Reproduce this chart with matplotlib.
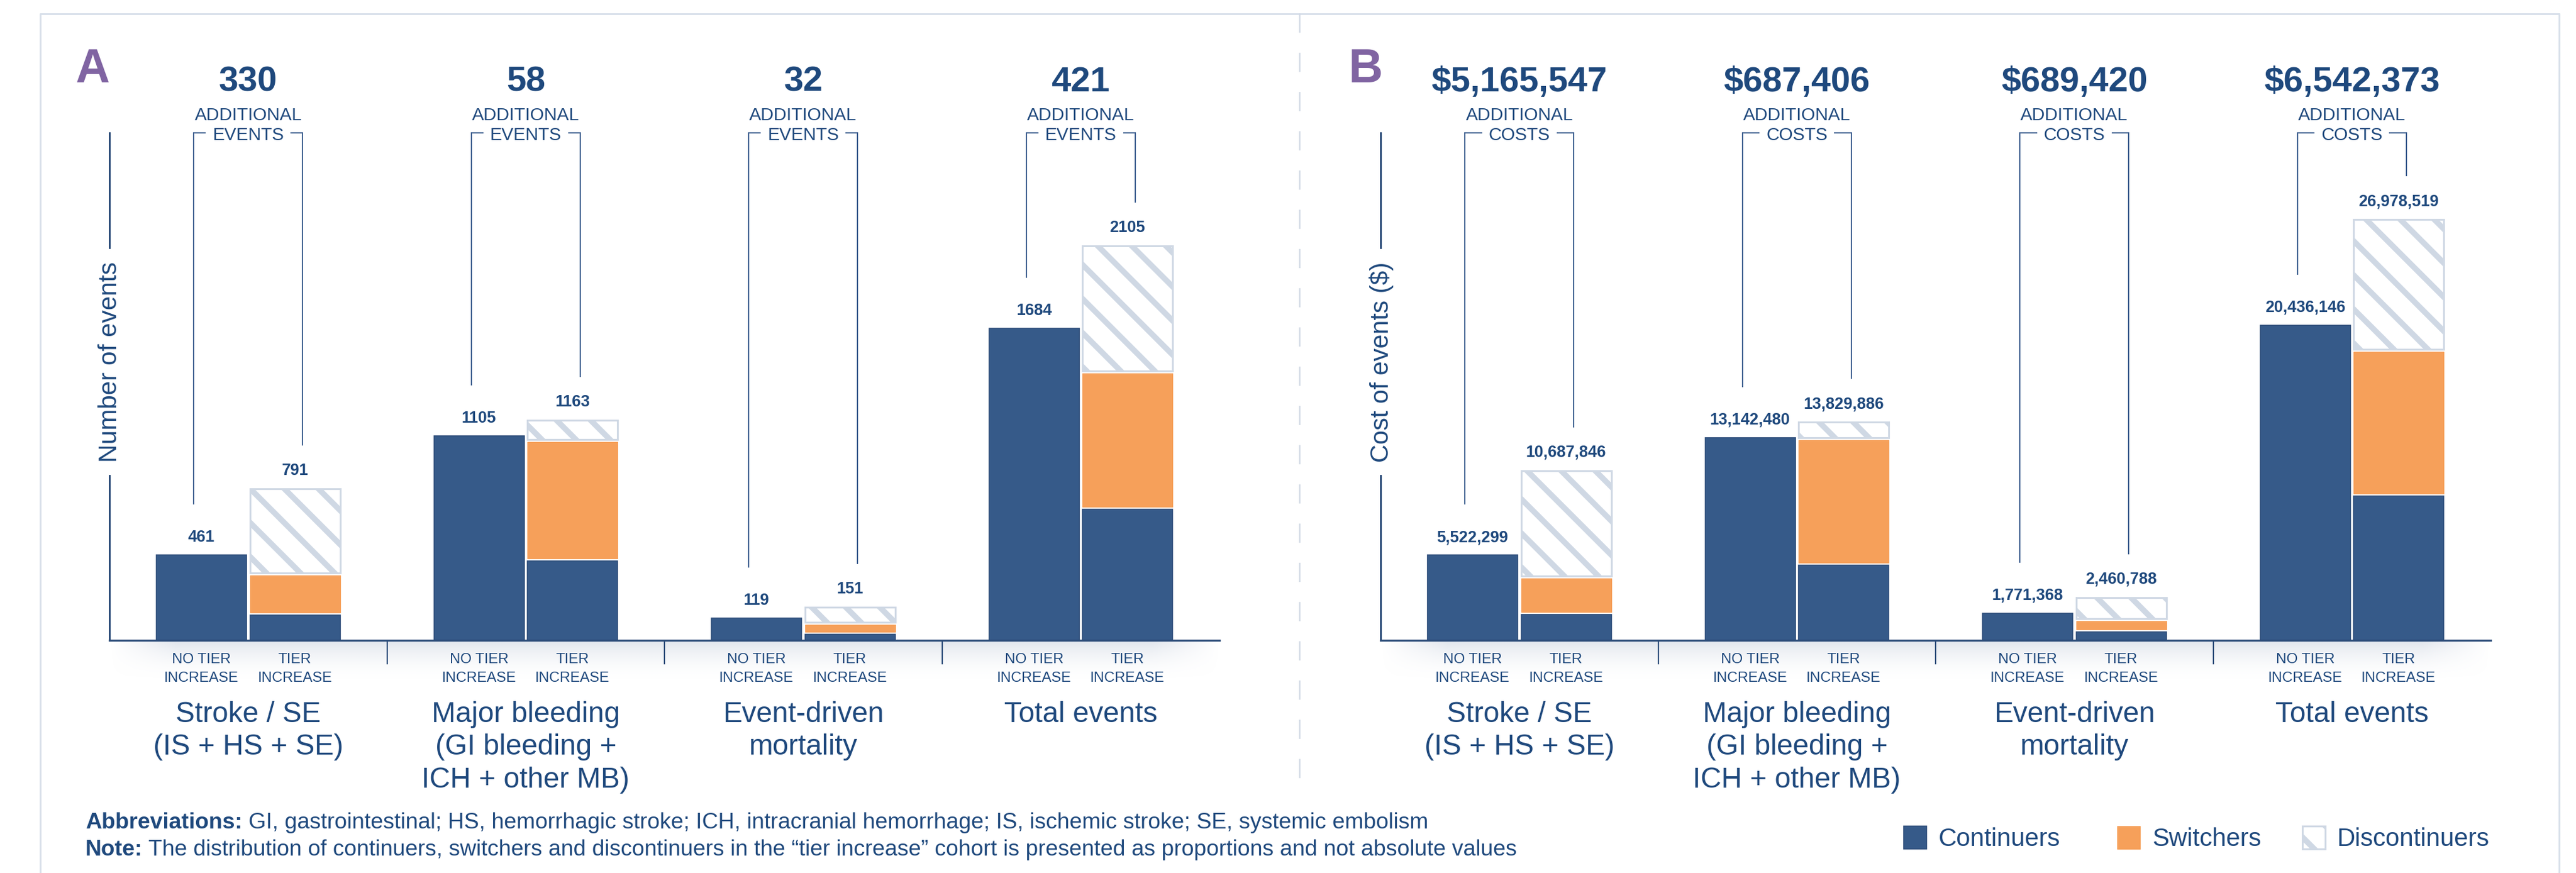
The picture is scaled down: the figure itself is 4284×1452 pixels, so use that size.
import numpy as np
import matplotlib
matplotlib.use("Agg")
import matplotlib.pyplot as plt
from matplotlib import transforms
from matplotlib.patches import Rectangle
from matplotlib.lines import Line2D

# Datos
categorias = ["Stroke / SE\n(IS + HS + SE)", "Major bleeding\n(GI bleeding +\nICH + other MB)",
              "Event-driven\nmortality", "Total events"]
cohortes = ["NO TIER\nINCREASE", "TIER\nINCREASE"]
series = ["Continuers", "Switchers", "Discontinuers"]

# Panel A: numero de eventos
eventos_sin_aumento = [461, 1105, 119, 1684]
eventos_con_aumento = [791, 1163, 151, 2105]
eventos_adicionales = [330, 58, 32, 421]
eventos_continuers = [137, 428, 33, 708]
eventos_switchers = [201, 629, 39, 721]
eventos_discontinuers = [453, 106, 79, 676]

# Panel B: costo de eventos ($)
costos_sin_aumento = [5522299, 13142480, 1771368, 20436146]
costos_con_aumento = [10687846, 13829886, 2460788, 26978519]
costos_adicionales = [5165547, 687406, 689420, 6542373]
costos_continuers = [1657000, 4854000, 534000, 9360000]
costos_switchers = [2210000, 7980000, 571000, 9200000]
costos_discontinuers = [6820846, 995886, 1355788, 8418519]

# Medidas de la figura (pixeles)
W, H, DPI = 4284, 1452, 170
K = 200 / DPI  # los tamaños se pensaron a 200 dpi
BASE, TOPE, ANCHO_EJE = 1065, 221, 1846

AZUL = '#365a89'
BORDE = '#2c4c79'
NARANJA = '#f6a05a'
RAYAS = '#cfd8e4'
TEXTO = '#1f497d'
LINEA = '#3f6090'
MORADO = '#8064a2'
MARCO = '#d9e0ea'

plt.rcParams['font.family'] = ['Liberation Sans', 'DejaVu Sans']
plt.rcParams['hatch.linewidth'] = 4.0

fig = plt.figure(figsize=(W / DPI, H / DPI), dpi=DPI)


def fx(px):
    return px / W


def fy(py):
    return 1 - py / H


def pt(px):
    return px * 72 / DPI


def panel(x_eje, letra, x_letra, sin_aum, con_aum, adicionales, cont, swit, disc,
          etiqueta_y, palabra, formato, px_por_unidad):
    ax = fig.add_axes([fx(x_eje), fy(BASE), fx(ANCHO_EJE), (BASE - TOPE) / H])
    ymax = (BASE - TOPE) / px_por_unidad
    u = ymax / (BASE - TOPE)  # unidades de datos por pixel
    x = np.arange(len(categorias))
    w = 150 / 461.5
    d = 155.5 / 2 / 461.5
    x_sin, x_con = x - d, x + d

    # barras
    ax.bar(x_sin, sin_aum, w, color=AZUL, edgecolor=BORDE, linewidth=0.6 * K, zorder=3)
    cont, swit, disc = np.array(cont), np.array(swit), np.array(disc)
    ax.bar(x_con, cont, w, color=AZUL, edgecolor=BORDE, linewidth=0.6 * K, zorder=3)
    b2 = cont + 4 * u
    ax.bar(x_con, swit, w, bottom=b2, color=NARANJA, edgecolor=NARANJA, linewidth=0.4 * K, zorder=3)
    b3 = b2 + swit + 4 * u
    ax.bar(x_con, disc, w, bottom=b3, color='white', edgecolor=RAYAS, hatch='\\',
           linewidth=1.1 * K, zorder=3)
    tope_con = b3 + disc

    # etiquetas sobre barras
    for xi, v, yv in zip(x_sin, sin_aum, sin_aum):
        ax.annotate(formato(v), (xi, yv), xytext=(0, pt(22)), textcoords='offset points',
                    ha='center', va='baseline', fontsize=9.6 * K, weight='bold', color=TEXTO,
                    annotation_clip=False)
    for xi, v, yv in zip(x_con, con_aum, tope_con):
        ax.annotate(formato(v), (xi, yv), xytext=(0, pt(23)), textcoords='offset points',
                    ha='center', va='baseline', fontsize=9.6 * K, weight='bold', color=TEXTO,
                    annotation_clip=False)

    ax.set_xlim(-0.5, 3.5)
    ax.set_ylim(0, ymax)
    for s in ['left', 'top', 'right']:
        ax.spines[s].set_visible(False)
    ax.spines['bottom'].set_color(BORDE)
    ax.spines['bottom'].set_linewidth(1.2 * K)
    ax.spines['bottom'].set_zorder(4)
    ax.set_yticks([])
    ax.set_xticks(np.concatenate([x_sin, x_con]), [cohortes[0]] * 4 + [cohortes[1]] * 4)
    ax.tick_params(axis='x', length=0, pad=pt(21), labelsize=8.75 * K, labelcolor=TEXTO)
    for lbl in ax.get_xticklabels():
        lbl.set_linespacing(1.53)

    # eje y partido con su titulo
    ax.plot([0, 0], [0, (BASE - 791) / (BASE - TOPE)], transform=ax.transAxes,
            color=BORDE, lw=1.1 * K, clip_on=False)
    ax.plot([0, 0], [(BASE - 412) / (BASE - TOPE), 1], transform=ax.transAxes,
            color=BORDE, lw=1.1 * K, clip_on=False)
    fig.text(fx(x_eje + 1), fy(602), etiqueta_y, rotation=90, ha='center', va='center',
             fontsize=15.2 * K, color=TEXTO)
    fig.text(fx(x_letra), fy(137), letra, fontsize=28.4 * K, weight='bold', color=MORADO,
             ha='left', va='baseline')

    # separadores y sombra debajo de la base
    ax.vlines([0.5, 1.5, 2.5], -40 * u, 0, colors=BORDE, lw=0.8 * K, clip_on=False)
    alto = 70
    t = np.linspace(0, 1, alto)[:, None]
    s = np.linspace(0, 1, 400)[None, :]
    horiz = np.clip(np.minimum(s, 1 - s) / 0.06, 0, 1)
    alfa = 0.6 * (1 - t) ** 2 * horiz
    img = np.zeros((alto, 400, 4))
    img[..., 0], img[..., 1], img[..., 2] = 0.80, 0.83, 0.88
    img[..., 3] = alfa
    ax.imshow(img, extent=(0, 1, -alto / (BASE - TOPE), 0), transform=ax.transAxes,
              aspect='auto', clip_on=False, zorder=1, interpolation='bilinear')
    ax.set_xlim(-0.5, 3.5)
    ax.set_ylim(0, ymax)

    # titulos de grupo
    mezcla = transforms.blended_transform_factory(ax.transData, fig.transFigure)
    for xi, cat in zip(x, categorias):
        ax.text(xi, fy(1166), cat, transform=mezcla, ha='center', va='top',
                fontsize=17.2 * K, color=TEXTO, linespacing=1.27, multialignment='center')

    # encabezados con corchetes
    renderer = fig.canvas.get_renderer()
    inv = ax.transData.inverted()
    for i, xi in enumerate(x):
        ax.text(xi, fy(152), formato(adicionales[i], True), transform=mezcla, ha='center',
                va='baseline', fontsize=21 * K, weight='bold', color=TEXTO)
        ax.text(xi, fy(200), "ADDITIONAL", transform=mezcla, ha='center', va='baseline',
                fontsize=10.7 * K, color=TEXTO)
        tp = ax.text(xi, fy(233), palabra, transform=mezcla, ha='center', va='baseline',
                     fontsize=10.7 * K, color=TEXTO)
        bb = tp.get_window_extent(renderer)
        x_izq = inv.transform((bb.x0 - 12, 0))[0]
        x_der = inv.transform((bb.x1 + 12, 0))[0]
        xl, xr = xi - 0.196, xi + 0.196
        ax.plot([x_izq, xl, xl], [ymax, ymax, sin_aum[i] + 85 * u], color=LINEA, lw=0.75 * K,
                clip_on=False, solid_joinstyle='miter')
        ax.plot([x_der, xr, xr], [ymax, ymax, tope_con[i] + 73 * u], color=LINEA, lw=0.75 * K,
                clip_on=False, solid_joinstyle='miter')
    return ax


def fmt_eventos(v, grande=False):
    return str(v)


def fmt_costos(v, grande=False):
    return ("$" if grande else "") + f"{v:,}"


panel(182, "A", 125, eventos_sin_aumento, eventos_con_aumento, eventos_adicionales,
      eventos_continuers, eventos_switchers, eventos_discontinuers,
      "Number of events", "EVENTS", fmt_eventos, 0.308)
panel(2296, "B", 2243, costos_sin_aumento, costos_con_aumento, costos_adicionales,
      costos_continuers, costos_switchers, costos_discontinuers,
      "Cost of events ($)", "COSTS", fmt_costos, 2.565e-5)

# marco y divisor punteado
fig.add_artist(Line2D([fx(67), fx(67), fx(4256), fx(4256)], [fy(1460), fy(23), fy(23), fy(1460)],
                      color=MARCO, lw=1.1 * K))
fig.add_artist(Line2D([fx(2161), fx(2161)], [fy(22), fy(1306)], color='#d3dae5', lw=0.9 * K,
                      linestyle=(0, (12.8, 13.3))))

# notas al pie
renderer = fig.canvas.get_renderer()
notas = [("Abbreviations:", " GI, gastrointestinal; HS, hemorrhagic stroke; ICH, intracranial "
          "hemorrhage; IS, ischemic stroke; SE, systemic embolism", 1378),
         ("Note:", " The distribution of continuers, switchers and discontinuers in the "
          "\u201ctier increase\u201d cohort is presented as proportions and not absolute values", 1423)]
for negrita, resto, yb in notas:
    tb = fig.text(fx(142), fy(yb), negrita, fontsize=13.4 * K, weight='bold', color=TEXTO,
                  va='baseline')
    bb = tb.get_window_extent(renderer)
    fig.text(bb.x1 / W, fy(yb), resto, fontsize=13.4 * K, color=TEXTO, va='baseline')

# leyenda
estilos = [dict(facecolor=AZUL, edgecolor=BORDE, linewidth=0.6 * K),
           dict(facecolor=NARANJA, edgecolor=NARANJA, linewidth=0.4 * K),
           dict(facecolor='white', edgecolor=RAYAS, hatch='\\', linewidth=1.1 * K)]
for nombre, est, x0 in zip(series, estilos, [3166, 3521, 3829]):
    fig.add_artist(Rectangle((fx(x0), fy(1412)), fx(38), 38 / H, transform=fig.transFigure, **est))
    fig.text(fx(x0 + 58), fy(1407), nombre, fontsize=15.1 * K, color=TEXTO, va='baseline')

fig.savefig("out.png", dpi=DPI)
